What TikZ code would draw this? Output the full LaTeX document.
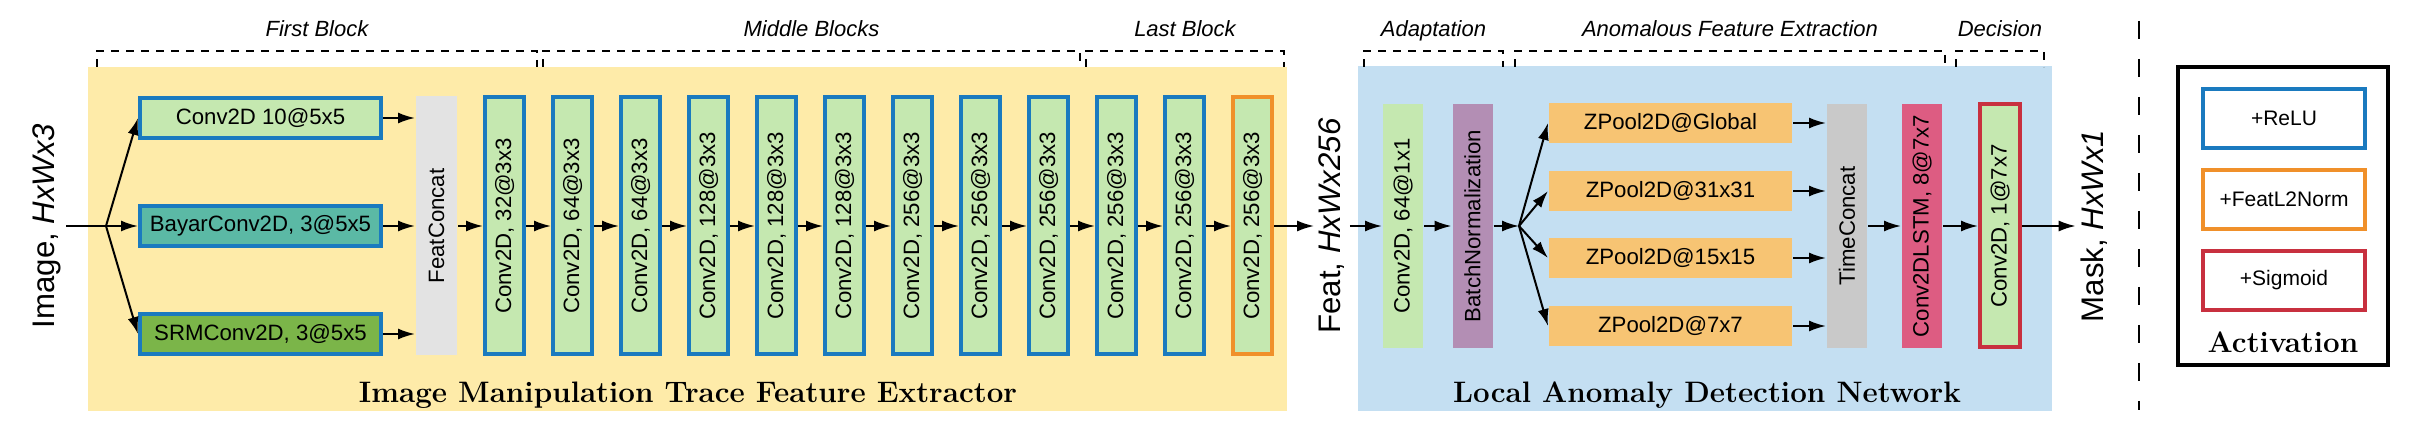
\documentclass[tikz,border=0pt]{standalone}
\usepackage{fontspec}
\setsansfont{Liberation Sans}
\usetikzlibrary{arrows.meta}

\definecolor{reluBlue}{HTML}{1A7ABF}
\definecolor{normOrange}{HTML}{F0902A}
\definecolor{sigRed}{HTML}{C8303F}
\definecolor{convGreen}{HTML}{C5E8B0}
\definecolor{bayarTeal}{HTML}{5BB9A5}
\definecolor{srmGreen}{HTML}{7BB549}
\definecolor{concatGray}{HTML}{E3E3E3}
\definecolor{timeGray}{HTML}{C9C9C9}
\definecolor{bnPurple}{HTML}{B38EB4}
\definecolor{poolOrange}{HTML}{F7C473}
\definecolor{lstmPink}{HTML}{DD5C82}
\definecolor{extrYellow}{HTML}{FEEBA9}
\definecolor{detBlue}{HTML}{C4DFF2}

\begin{document}
\begin{tikzpicture}[x=0.5pt, y=-0.5pt, >={Latex[length=8.5pt,width=5.5pt]}, line width=1pt,
	txt/.style={font=\sffamily\fontsize{11.1}{13}\selectfont},
	hbox/.style={txt, draw=reluBlue, line width=2pt, minimum width=120.5pt, minimum height=20pt, inner sep=0pt},
	vbox/.style={txt, rotate=90, minimum width=128.5pt, minimum height=19.5pt, inner sep=0pt},
	conv/.style={vbox, draw=reluBlue, line width=2pt, fill=convGreen},
	plain/.style={txt, rotate=90, minimum width=122pt, minimum height=20pt, inner sep=0pt},
	pool/.style={txt, fill=poolOrange, minimum width=121.5pt, minimum height=20pt, inner sep=0pt},
	io/.style={font=\sffamily\fontsize{15.6}{18}\selectfont, rotate=90, inner sep=2pt},
	group/.style={dash pattern=on 4pt off 3.5pt, line width=1.4pt},
	grouplbl/.style={font=\sffamily\itshape\fontsize{11}{13}\selectfont, anchor=base, yshift=7pt},
	title/.style={font=\bfseries\fontsize{14.8}{17}\selectfont, anchor=base},
	legend/.style={font=\sffamily\fontsize{10.5}{12}\selectfont, line width=1.6pt, minimum width=81pt, minimum height=29.5pt, inner sep=0pt}
]
	\useasboundingbox (0,0) rectangle (2427,427);
	\fill[extrYellow] (88,67) rectangle (1287,411);
	\fill[detBlue] (1358,66) rectangle (2052,411);
	%%
	\draw[group] (97,67) -- (97,51) -- node[grouplbl]{First Block} (537,51) -- (537,67);
	\draw[group] (543,67) -- (543,51) -- node[grouplbl]{Middle Blocks} (1080,51) -- (1080,67);
	\draw[group] (1086,67) -- (1086,51) -- node[grouplbl]{Last Block} (1284,51) -- (1284,67);
	\draw[group] (1364,67) -- (1364,51) -- node[grouplbl]{Adaptation} (1503,51) -- (1503,67);
	\draw[group] (1515,67) -- (1515,51) -- node[grouplbl]{Anomalous Feature Extraction} (1945,51) -- (1945,67);
	\draw[group] (1956,67) -- (1956,51) -- node[grouplbl]{Decision} (2044,51) -- (2044,67);
	%%
	\node[io] (img) at (47,226) {Image, \textit{HxWx3}};
	\coordinate (sp1) at (106,226);
	\node[hbox, fill=convGreen] (b1) at (260.5,118) {Conv2D 10@5x5};
	\node[hbox, fill=bayarTeal] (b2) at (260.5,226) {BayarConv2D, 3@5x5};
	\node[hbox, fill=srmGreen] (b3) at (260.5,334) {SRMConv2D, 3@5x5};
	\node[vbox, fill=concatGray, minimum width=129.5pt, minimum height=20.5pt] (fc) at (436.5,226) {FeatConcat};
	\draw (img.south) -- (sp1);
	\foreach \b in {b1,b2,b3}{
		\draw[->] (sp1) -- (\b.west);
		\draw[->] (\b.east) -- (\b.east -| fc.north);
	}
	%%
	\foreach \lbl [count=\i from 0] in {32,64,64,128,128,128,256,256,256,256,256}
		\node[conv] (c\i) at (504.5+68*\i,226) {Conv2D, \lbl@3x3};
	\node[conv, draw=normOrange] (c11) at (1252.5,226) {Conv2D, 256@3x3};
	\draw[->] (fc) -- (c0);
	\foreach \i [evaluate=\i as \j using int(\i+1)] in {0,...,10}
		\draw[->] (c\i) -- (c\j);
	%%
	\node[io] (feat) at (1332,226) {Feat, \textit{HxWx256}};
	\node[plain, fill=convGreen] (adp) at (1403,226) {Conv2D, 64@1x1};
	\node[plain, fill=bnPurple] (bn) at (1472.5,226) {BatchNormalization};
	\coordinate (sp2) at (1519,226);
	\node[pool] (p1) at (1670.5,123) {ZPool2D@Global};
	\node[pool] (p2) at (1670.5,191) {ZPool2D@31x31};
	\node[pool] (p3) at (1670.5,258) {ZPool2D@15x15};
	\node[pool] (p4) at (1670.5,326) {ZPool2D@7x7};
	\node[plain, fill=timeGray] (tc) at (1847,226) {TimeConcat};
	\node[plain, fill=lstmPink] (lstm) at (1922,226) {Conv2DLSTM, 8@7x7};
	\node[plain, draw=sigRed, line width=2pt, fill=convGreen, minimum width=121.5pt] (dec) at (2000,226) {Conv2D, 1@7x7};
	\node[io] (mask) at (2094,226) {Mask, \textit{HxWx1}};
	\draw[->] (c11) -- (feat.north);
	\draw[->] (feat.south) -- (adp);
	\draw[->] (adp) -- (bn);
	\draw[->] (bn) -- (sp2);
	\foreach \p in {p1,p2,p3,p4}{
		\draw[->] (sp2) -- (\p.west);
		\draw[->] (\p.east) -- (\p.east -| tc.north);
	}
	\draw[->] (tc) -- (lstm);
	\draw[->] (lstm) -- (dec);
	\draw[->] (dec) -- (mask.north);
	%%
	\node[title] (fext) at (688,402) {Image Manipulation Trace Feature Extractor};
	\node[title] (ldet) at (1707,402) {Local Anomaly Detection Network};
	%%
	\draw[dash pattern=on 9pt off 10pt] (2139,21) -- (2139,410);
	\node[draw, line width=2pt, minimum width=105pt, minimum height=149pt] (act) at (2283,216) {};
	\node[legend, draw=reluBlue] (relu) at (2284,118.5) {+ReLU};
	\node[legend, draw=normOrange] (l2n) at (2284,199.5) {+FeatL2Norm};
	\node[legend, draw=sigRed] (sig) at (2284,280.5) {+Sigmoid};
	\node[title] (acttl) at (2283,352) {Activation};
\end{tikzpicture}
\end{document}
